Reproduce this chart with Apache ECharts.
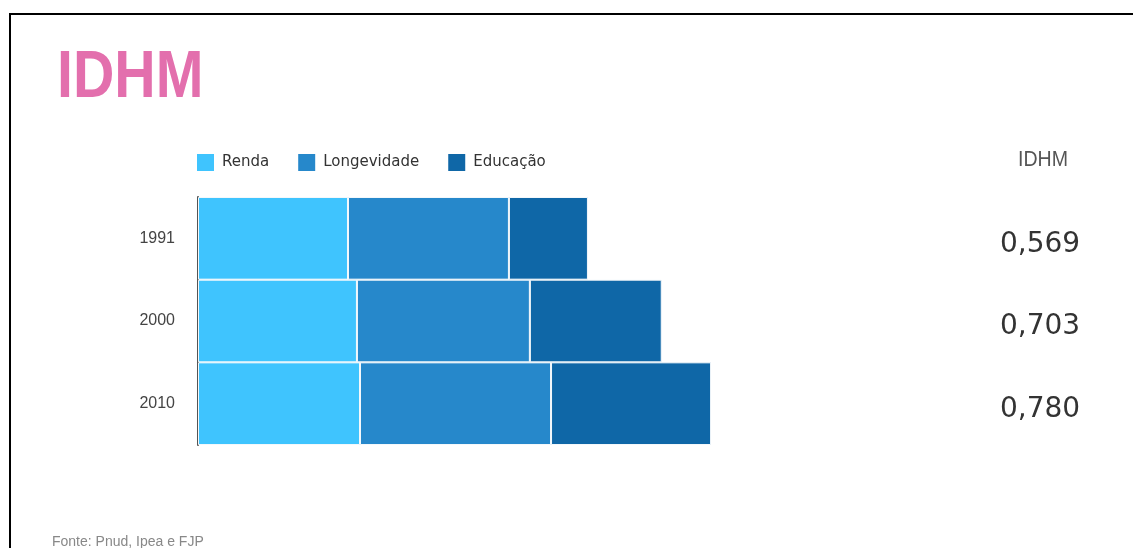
<!DOCTYPE html>
<html>
<head>
<meta charset="utf-8">
<script src="https://cdn.jsdelivr.net/npm/echarts@6/dist/echarts.min.js"></script>
<style>
html,body{margin:0;padding:0;background:#fff;}
#chart{width:1133px;height:548px;}
</style>
</head>
<body>
<div id="chart"></div>
<script>
var years = ['1991', '2000', '2010'];
var renda = [0.687, 0.728, 0.742];
var longevidade = [0.737, 0.792, 0.875];
var educacao = [0.362, 0.604, 0.733];
var idhmLabels = ['0,569', '0,703', '0,780'];
var seriesNames = ['Renda', 'Longevidade', 'Educação'];
var colors = ['#3FC4FE', '#2688CB', '#0F67A7'];

var chart = echarts.init(document.getElementById('chart'));
var seriesData = [renda, longevidade, educacao];
chart.setOption({
  animation: false,
  backgroundColor: '#fff',
  title: [
    { text: 'Fonte: Pnud, Ipea e FJP', left: 47, top: 530,
      textStyle: { fontFamily: '"Liberation Sans", Arial, sans-serif', fontWeight: 'normal', fontSize: 14, color: '#888' } }
  ],
  legend: {
    left: 197, top: 154, padding: 0,
    icon: 'rect', itemWidth: 17, itemHeight: 17, itemGap: 29,
    itemStyle: { borderWidth: 0 },
    textStyle: { fontFamily: '"DejaVu Sans", sans-serif', fontSize: 15, color: '#333', padding: [0, 0, 0, 3] },
    data: seriesNames
  },
  grid: { left: 198, top: 197, bottom: 103, right: 280, containLabel: false },
  xAxis: { type: 'value', min: 0, max: 3, show: false },
  yAxis: [
    { type: 'category', data: years, inverse: true,
      axisLine: { show: true, lineStyle: { color: '#555', width: 2 } },
      axisTick: { show: false },
      axisLabel: { margin: 23, fontFamily: '"Liberation Sans", Arial, sans-serif', fontSize: 16, color: '#444' } },
    { type: 'category', data: idhmLabels, inverse: true, position: 'right',
      axisLine: { show: false }, axisTick: { show: false },
      axisLabel: { margin: 147, align: 'left', formatter: '{v|{value}}',
        rich: { v: { padding: [12, 0, 0, 0], fontFamily: '"DejaVu Sans", sans-serif', fontSize: 28, color: '#333' } } } }
  ],
  series: seriesNames.map(function (n, i) {
    return {
      name: n, type: 'bar', stack: 'total', yAxisIndex: 0,
      barCategoryGap: '0%',
      itemStyle: { color: colors[i], borderColor: '#f4f8fb', borderWidth: 1 },
      data: seriesData[i]
    };
  }),
  graphic: [
    { type: 'polyline', shape: { points: [[10, 560], [10, 14], [1140, 14]] },
      style: { stroke: '#000', lineWidth: 2, fill: null } },
    { type: 'text', x: 57, y: 79, scaleX: 0.855,
      style: { text: 'IDHM', fontSize: 67, fontWeight: 'bold', fontFamily: '"Liberation Sans", Arial, sans-serif',
               fill: '#E36FAD', align: 'left', verticalAlign: 'middle' } },
    { type: 'text', x: 1018, y: 160, scaleX: 0.89,
      style: { text: 'IDHM', fontSize: 22, fontWeight: 'normal', fontFamily: '"Liberation Sans", Arial, sans-serif',
               fill: '#555', align: 'left', verticalAlign: 'middle' } }
  ]
});
</script>
</body>
</html>
